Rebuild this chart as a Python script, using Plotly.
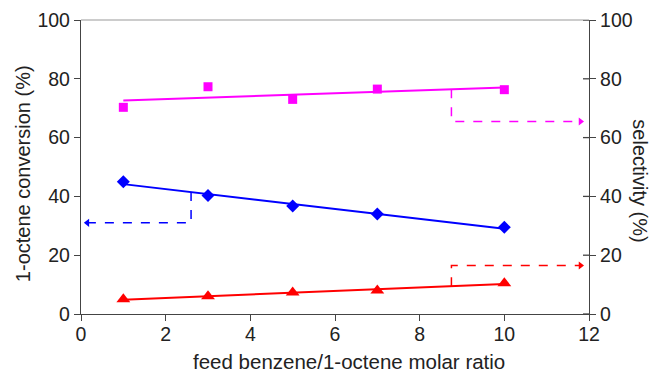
import numpy as np
import plotly.graph_objects as go

# feed benzene / 1-octene molar ratio
ratio = [1, 3, 5, 7, 10]
# 1-octene conversion (%)
conversion = [45.0, 40.3, 36.7, 34.0, 29.5]
# selectivity (%) for the two products
selectivity_a = [70.3, 77.3, 73.0, 76.5, 76.3]
selectivity_b = [5.0, 6.0, 7.3, 8.0, 10.5]

x_ticks = [0, 2, 4, 6, 8, 10, 12]
y_ticks = [0, 20, 40, 60, 80, 100]

BLUE = "#0000ff"
MAGENTA = "#ff00ff"
RED = "#ff0000"
TEXT = "#222222"
FONT = "Liberation Sans, Arial, sans-serif"
TICK_SIZE = 19.5


def linear_fit(xs, ys):
    k, b = np.polyfit(xs, ys, 1)
    xf = np.array([min(xs), max(xs)], dtype=float)
    return xf, k * xf + b, (k, b)


fig = go.Figure()

series = [
    (conversion, BLUE, "diamond", 10, "y"),
    (selectivity_a, MAGENTA, "square", 9, "y2"),
    (selectivity_b, RED, "triangle-up", 12, "y2"),
]
fits = []
for ys, col, sym, sz, ax in series:
    xf, yf, coef = linear_fit(ratio, ys)
    fits.append(coef)
    fig.add_trace(go.Scatter(x=xf, y=yf, mode="lines", yaxis=ax,
                             line=dict(color=col, width=2), showlegend=False,
                             hoverinfo="skip"))
    fig.add_trace(go.Scatter(x=ratio, y=ys, mode="markers", yaxis=ax,
                             marker=dict(color=col, symbol=sym, size=sz),
                             showlegend=False))

# dashed pointers showing which axis each curve belongs to
pointers = [
    (fits[0], 2.6, 31.0, 0.15, BLUE, "triangle-left", "y"),
    (fits[1], 8.75, 65.5, 11.8, MAGENTA, "triangle-right", "y2"),
    (fits[2], 8.75, 16.5, 11.8, RED, "triangle-right", "y2"),
]
for (k, b), xs, yl, xe, col, sym, ax in pointers:
    ys = k * xs + b
    fig.add_trace(go.Scatter(x=[xs, xs, xe], y=[ys, yl, yl], mode="lines", yaxis=ax,
                             line=dict(color=col, width=1.5, dash="dash"),
                             showlegend=False, hoverinfo="skip"))
    fig.add_trace(go.Scatter(x=[xe], y=[yl], mode="markers", yaxis=ax,
                             marker=dict(color=col, symbol=sym, size=7),
                             showlegend=False, hoverinfo="skip"))

axis_common = dict(
    showgrid=False, zeroline=False, showline=True, linecolor="#444444",
    linewidth=1.3, ticks="outside", ticklen=6, tickcolor="#444444",
    automargin=False,
    tickfont=dict(family=FONT, size=TICK_SIZE, color=TEXT),
)

fig.update_layout(
    width=655, height=373,
    margin=dict(l=81, r=66, t=20, b=59),
    paper_bgcolor="white", plot_bgcolor="white",
    font=dict(family=FONT, color=TEXT),
    xaxis=dict(range=[0, 12], tickvals=x_ticks, ticklabelstandoff=-4,
               **axis_common),
    yaxis=dict(range=[0, 100], tickvals=y_ticks, **axis_common),
    yaxis2=dict(range=[0, 100], tickvals=y_ticks, overlaying="y", side="right",
                **axis_common),
)

# thin grey frame line along the top of the plot area
fig.add_shape(type="line", xref="paper", yref="paper", x0=0, x1=1, y0=1, y1=1,
              line=dict(color="#999999", width=1.2))

# right-axis ticks also reach into the plot area
for v in y_ticks:
    fig.add_shape(type="line", xref="paper", yref="y2", x0=1 - 6 / 508, x1=1,
                  y0=v, y1=v, line=dict(color="#444444", width=1.3))

# axis titles
fig.add_annotation(text="feed benzene/1-octene molar ratio", xref="paper", yref="paper",
                   x=0.528, y=-0.16, xanchor="center", yanchor="middle",
                   showarrow=False, font=dict(family=FONT, size=20.5, color=TEXT))
fig.add_annotation(text="1-octene conversion (%)", xref="paper", yref="paper",
                   x=-0.114, y=0.476, xanchor="center", yanchor="middle",
                   textangle=-90, showarrow=False,
                   font=dict(family=FONT, size=20, color=TEXT))
fig.add_annotation(text="selectivity (%)", xref="paper", yref="paper",
                   x=1.100, y=0.452, xanchor="center", yanchor="middle",
                   textangle=90, showarrow=False,
                   font=dict(family=FONT, size=20, color=TEXT))

fig.write_html("out.html")
